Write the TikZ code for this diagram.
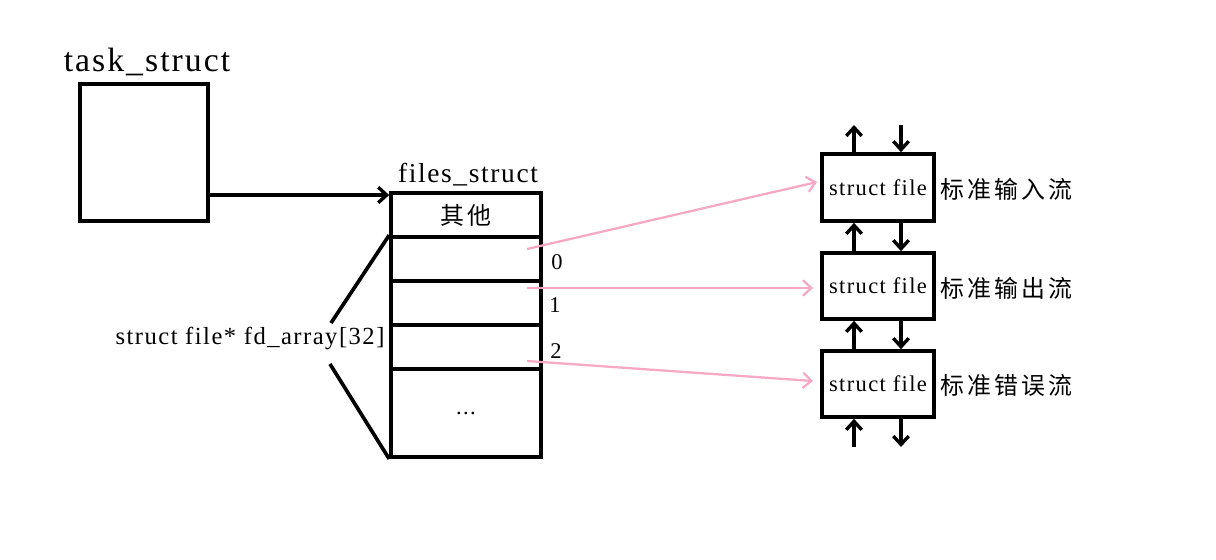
\documentclass[tikz,border=0pt]{standalone}
\usepackage{fontspec}
\setmainfont{Liberation Serif}[LetterSpace=6]
\newfontfamily\cjk{Noto Sans CJK SC}[LetterSpace=12]
\usetikzlibrary{arrows.meta}

\begin{document}
\begin{tikzpicture}[x=0.025cm, y=-0.025cm,
    box/.style={draw, line width=2.6pt, inner sep=0pt},
    arr/.style={line width=2.4pt, -{Straight Barb[length=6pt,width=11pt]}},
    pinkarr/.style={line width=1.6pt, draw=linkpink, -{Straight Barb[length=6pt,width=11pt]}}]
    \definecolor{linkpink}{RGB}{247,168,196}
    \useasboundingbox (0,0) rectangle (1216,559);
    % task_struct
    \node[box, minimum width=3.2cm, minimum height=3.425cm] (task) at (144,152.5) {};
    \node (tasklbl) at (147,62) {\fontsize{24}{26}\selectfont task\_struct};
    % files_struct
    \node (fileslbl) at (468,175) {\fontsize{19.5}{22}\selectfont files\_struct};
    \node[box, minimum width=3.75cm, minimum height=1.1cm] (r0) at (466,215) {\cjk\fontsize{17}{20}\selectfont 其他};
    \node[box, minimum width=3.75cm, minimum height=1.1cm] (r1) at (466,259) {};
    \node[box, minimum width=3.75cm, minimum height=1.1cm] (r2) at (466,303) {};
    \node[box, minimum width=3.75cm, minimum height=1.1cm] (r3) at (466,347) {};
    \node[box, minimum width=3.75cm, minimum height=2.2cm] (r4) at (466,413) {\fontsize{16}{18}\selectfont ...};
    \draw [arr] (task.east |- 0,195) to (r0.north west |- 0,195);
    \node (n0) at (557,262) {\fontsize{16}{18}\selectfont 0};
    \node (n1) at (555,305) {\fontsize{16}{18}\selectfont 1};
    \node (n2) at (556,351) {\fontsize{16}{18}\selectfont 2};
    % fd_array
    \node (fdlbl) at (250,338) {\fontsize{17.5}{20}\selectfont struct file* fd\_array[32]};
    \coordinate (b1) at (331,323);
    \coordinate (b2) at (330,364);
    \draw [line width=2.6pt] (b1) to (r1.north west);
    \draw [line width=2.6pt] (b2) to (r4.south west);
    % struct file
    \node[box, minimum width=2.8cm, minimum height=1.675cm] (f0) at (878,187.5) {\fontsize{16}{18}\selectfont struct file};
    \node[box, minimum width=2.8cm, minimum height=1.65cm] (f1) at (878,286) {\fontsize{16}{18}\selectfont struct file};
    \node[box, minimum width=2.8cm, minimum height=1.65cm] (f2) at (878,384) {\fontsize{16}{18}\selectfont struct file};
    \node[anchor=west] (s0) at (936,189) {\cjk\fontsize{17}{20}\selectfont 标准输入流};
    \node[anchor=west] (s1) at (936,288) {\cjk\fontsize{17}{20}\selectfont 标准输出流};
    \node[anchor=west] (s2) at (936,385) {\cjk\fontsize{17}{20}\selectfont 标准错误流};
    % up and down
    \coordinate (u0) at (854,125);
    \coordinate (d0) at (901,125);
    \coordinate (u3) at (854,447);
    \coordinate (d3) at (901,447);
    \draw [arr] (f0.north -| u0) to (u0);
    \draw [arr] (d0) to (f0.north -| d0);
    \draw [arr] (f1.north -| u0) to (f0.south -| u0);
    \draw [arr] (f0.south -| d0) to (f1.north -| d0);
    \draw [arr] (f2.north -| u0) to (f1.south -| u0);
    \draw [arr] (f1.south -| d0) to (f2.north -| d0);
    \draw [arr] (u3) to (f2.south -| u3);
    \draw [arr] (f2.south -| d3) to (d3);
    % fd -> struct file
    \coordinate (p0) at (527,249);
    \coordinate (p1) at (527,288);
    \coordinate (p2) at (527,361);
    \coordinate (e0) at (817,182);
    \coordinate (e1) at (813,288);
    \coordinate (e2) at (813,381);
    \draw [pinkarr] (p0) to (e0);
    \draw [pinkarr] (p1) to (e1);
    \draw [pinkarr] (p2) to (e2);
\end{tikzpicture}
\end{document}
